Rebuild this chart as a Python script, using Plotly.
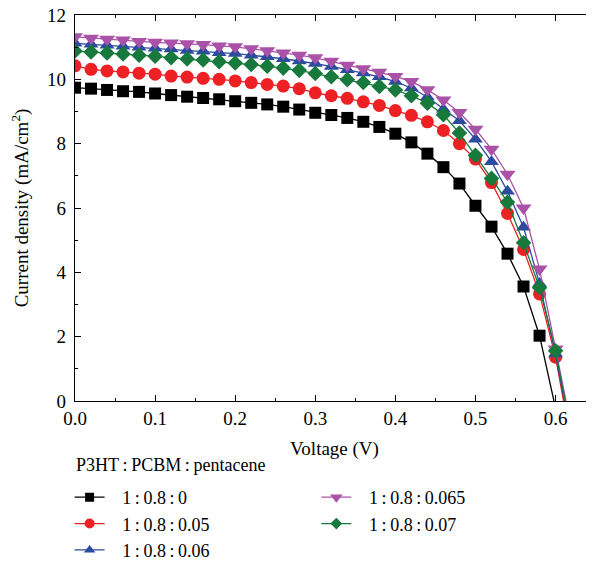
import plotly.graph_objects as go

voltage = [round(0.02 * i, 2) for i in range(31)]

S = "\u2009"
labels = [f"1{S}:{S}0.8{S}:{S}0", f"1{S}:{S}0.8{S}:{S}0.05", f"1{S}:{S}0.8{S}:{S}0.06",
          f"1{S}:{S}0.8{S}:{S}0.065", f"1{S}:{S}0.8{S}:{S}0.07"]
legend_title = f"P3HT{S}:{S}PCBM{S}:{S}pentacene"

j_0 = [9.74, 9.71, 9.67, 9.63, 9.61, 9.56, 9.51, 9.46, 9.42, 9.38, 9.32, 9.27, 9.22, 9.15, 9.06,
       8.96, 8.89, 8.80, 8.68, 8.52, 8.31, 8.04, 7.69, 7.27, 6.76, 6.07, 5.42, 4.58, 3.56, 2.03]
j_005 = [10.42, 10.31, 10.26, 10.23, 10.19, 10.16, 10.10, 10.07, 10.03, 10.00, 9.95, 9.90, 9.84, 9.79, 9.71,
         9.58, 9.49, 9.41, 9.30, 9.19, 9.03, 8.88, 8.68, 8.41, 8.00, 7.52, 6.79, 5.83, 4.71, 3.33, 1.36]
j_006 = [11.12, 11.09, 11.06, 11.03, 11.00, 10.97, 10.94, 10.90, 10.87, 10.83, 10.80, 10.75, 10.70, 10.64, 10.57,
         10.49, 10.40, 10.30, 10.20, 10.08, 9.93, 9.73, 9.45, 9.07, 8.71, 8.14, 7.44, 6.52, 5.40, 3.65, 1.46]
j_0065 = [11.32, 11.28, 11.25, 11.22, 11.18, 11.15, 11.13, 11.11, 11.08, 11.04, 11.01, 10.95, 10.89, 10.82, 10.75,
          10.67, 10.56, 10.44, 10.33, 10.22, 10.09, 9.93, 9.68, 9.36, 8.97, 8.45, 7.83, 7.05, 6.00, 4.10, 1.62]
j_007 = [10.88, 10.85, 10.82, 10.79, 10.75, 10.72, 10.67, 10.63, 10.60, 10.55, 10.51, 10.46, 10.41, 10.35, 10.28,
         10.18, 10.08, 9.99, 9.90, 9.78, 9.67, 9.49, 9.26, 8.90, 8.33, 7.64, 6.92, 6.18, 4.92, 3.52, 1.56]
voc = [0.598, 0.610, 0.611, 0.613, 0.612]

series = [j_0, j_005, j_006, j_0065, j_007]
colors = ["#000000", "#ED2024", "#2C4A9E", "#AA52A8", "#17793B"]
symbols = ["square", "circle", "triangle-up", "triangle-down", "diamond"]
sizes = [12, 13, 13, 14, 12]
legend_sizes = [9, 10, 10, 11, 9]
legends = ["legend", "legend", "legend", "legend2", "legend2"]

FONT = "Liberation Serif, Times New Roman, serif"
fig = go.Figure()
for k in range(5):
    js = series[k]
    xs = voltage[:len(js)]
    fig.add_trace(go.Scatter(x=xs + [voc[k]], y=js + [0], mode="lines",
                             line=dict(color=colors[k], width=1.3), showlegend=False, hoverinfo="skip"))
    fig.add_trace(go.Scatter(x=xs, y=js, mode="markers", showlegend=False,
                             marker=dict(symbol=symbols[k], size=sizes[k], color=colors[k], line=dict(width=0))))
for k in range(5):
    # legend-only entries (no data points)
    fig.add_trace(go.Scatter(x=[None], y=[None], mode="lines+markers", name="\u2002\u2009" + labels[k],
                             line=dict(color=colors[k], width=1.3),
                             marker=dict(symbol=symbols[k], size=legend_sizes[k], color=colors[k], line=dict(width=0)),
                             legend=legends[k]))

tick_font = dict(family=FONT, size=19, color="black")
axis_common = dict(showline=True, linecolor="black", linewidth=1.3, mirror="allticks",
                   ticks="inside", ticklen=6, tickwidth=1.2, tickcolor="black",
                   showgrid=False, zeroline=False, tickfont=tick_font, ticklabeloverflow="allow")

fig.update_xaxes(range=[0, 0.648], tickvals=[0, 0.1, 0.2, 0.3, 0.4, 0.5, 0.6],
                 ticktext=["0.0", "0.1", "0.2", "0.3", "0.4", "0.5", "0.6"],
                 minor=dict(dtick=0.05, tick0=0, ticks="inside", ticklen=3, tickcolor="black", tickwidth=1),
                 title=dict(text="Voltage (V)", font=dict(family=FONT, size=19, color="black"), standoff=13),
                 ticklabelstandoff=0,
                 **axis_common)
fig.update_yaxes(range=[0, 12], tickvals=[0, 2, 4, 6, 8, 10, 12],
                 minor=dict(dtick=1, tick0=0, ticks="inside", ticklen=3, tickcolor="black", tickwidth=1),
                 title=dict(text="Current density (mA/cm<sup>2</sup>)", font=dict(family=FONT, size=19, color="black"),
                            standoff=13),
                 ticklabelstandoff=4,
                 **axis_common)

leg_font = dict(family=FONT, size=18, color="black")
fig.update_layout(
    width=594, height=563,
    margin=dict(l=67, r=8, t=7, b=170, autoexpand=False),
    paper_bgcolor="white", plot_bgcolor="white",
    legend=dict(x=-0.0104, y=-0.202, xanchor="left", yanchor="top", font=leg_font,
                bgcolor="rgba(0,0,0,0)", itemwidth=30),
    legend2=dict(x=0.465, y=-0.202, xanchor="left", yanchor="top", font=leg_font,
                 bgcolor="rgba(0,0,0,0)", itemwidth=30),
    annotations=[dict(text=legend_title, x=0, xref="paper", xanchor="left", xshift=-1,
                      y=-0.166, yref="paper", yanchor="middle", showarrow=False, font=leg_font)],
)

fig.write_html("out.html")
